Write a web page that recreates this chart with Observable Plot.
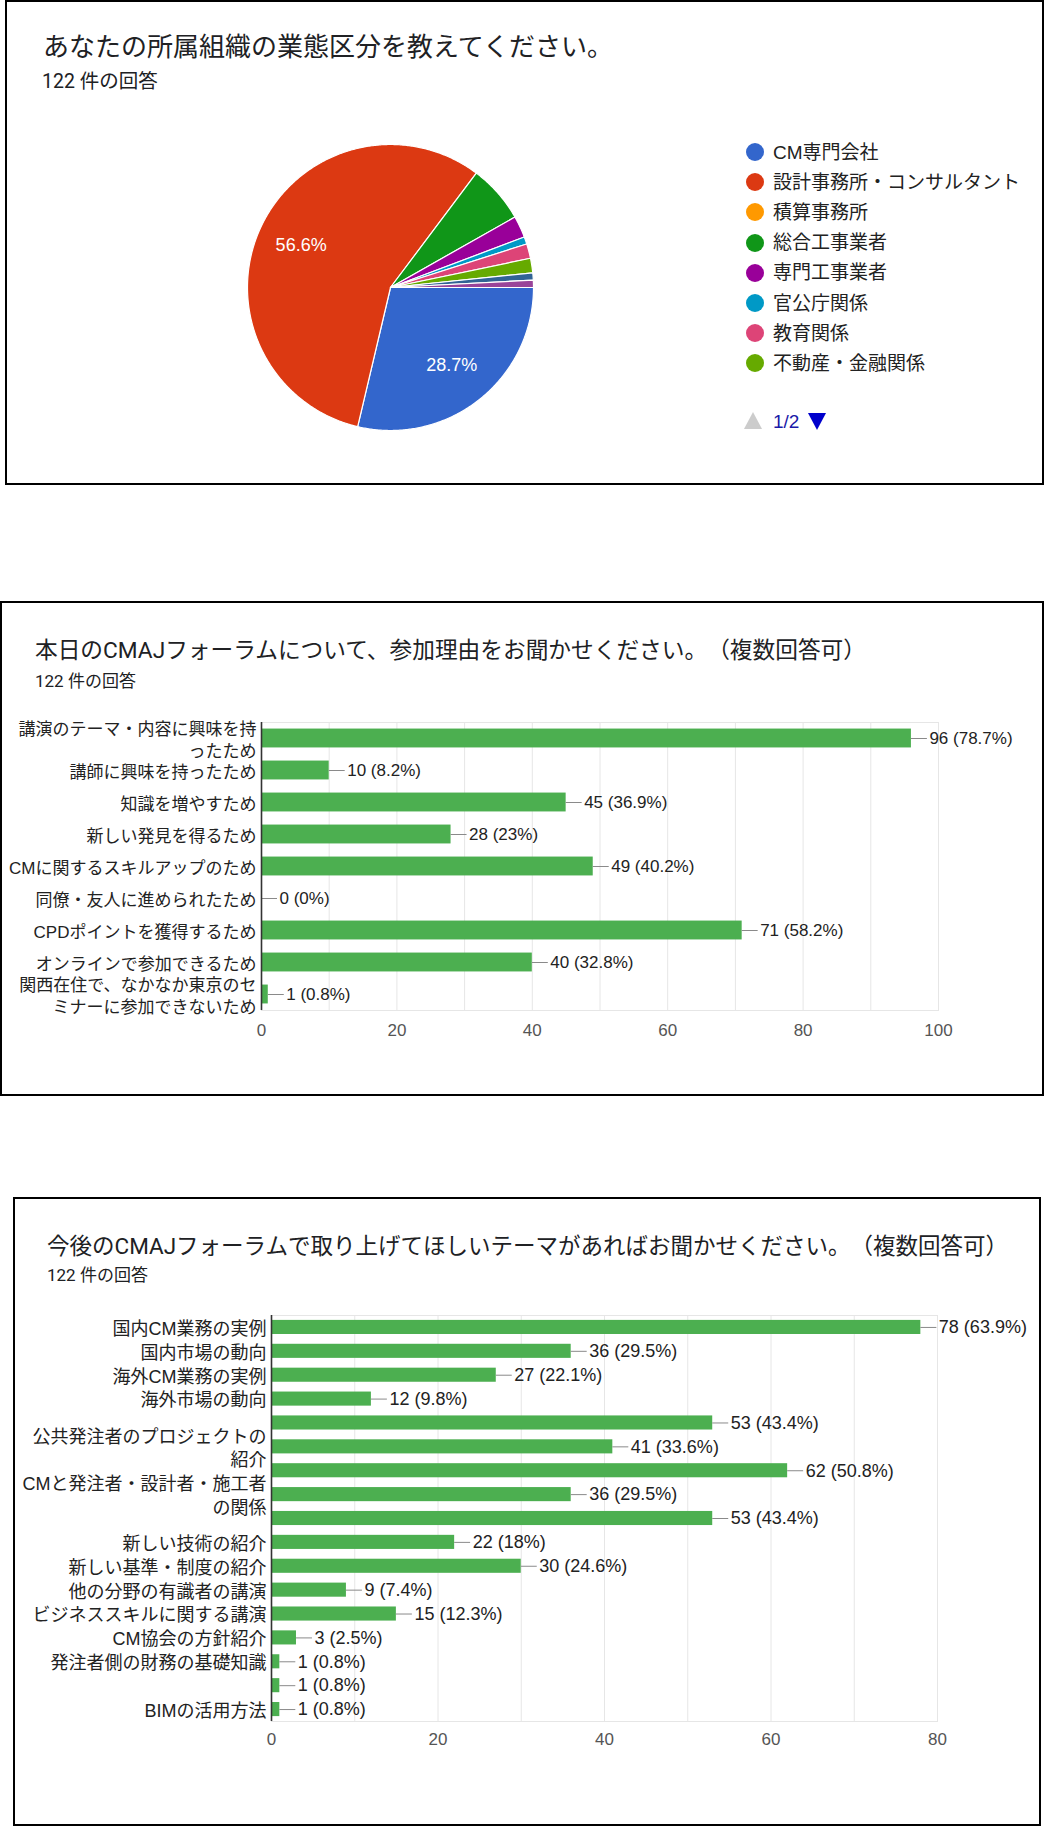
<!DOCTYPE html>
<html lang="ja">
<head>
<meta charset="utf-8">
<title>CMAJフォーラム アンケート結果</title>
<script src="https://cdn.jsdelivr.net/npm/d3@7"></script>
<script src="https://cdn.jsdelivr.net/npm/@observablehq/plot@0.6"></script>
<style>
  html, body { margin: 0; padding: 0; background: #fff; text-spacing-trim: space-all; }
  #page { position: relative; width: 1046px; height: 1826px; overflow: hidden; background: #fff; }
  .box { position: absolute; border: 2px solid #000; box-sizing: border-box; pointer-events: none; }
  .t { position: absolute; white-space: nowrap; }
  .dot { position: absolute; border-radius: 50%; }
  .tri { position: absolute; width: 0; height: 0; }
</style>
</head>
<body>
<div id="page"></div>
<script>
// ================= DATA =================
const responses = 122;

// Chart 1: 業態区分 (pie). Only the first legend page (8 items) is visible;
// the last two slices belong to legend page 2 and are unnamed in the picture.
const orgLabels = [
  "CM専門会社", "設計事務所・コンサルタント", "積算事務所", "総合工事業者",
  "専門工事業者", "官公庁関係", "教育関係", "不動産・金融関係",
  "（2ページ目の項目A）", "（2ページ目の項目B）"
];
const orgCounts = [35, 69, 0, 8, 3, 1, 2, 2, 1, 1];
const orgColors = [
  "#3366cc", "#dc3912", "#ff9900", "#109618", "#990099",
  "#0099c6", "#dd4477", "#66aa00", "#316395", "#994499"
];
const orgLegendPageSize = 8;
const orgLegendPager = "1/2";

// Chart 2: 参加理由
const reasonCategories = [
  "講演のテーマ・内容に興味を持ったため", "講師に興味を持ったため", "知識を増やすため",
  "新しい発見を得るため", "CMに関するスキルアップのため", "同僚・友人に進められたため",
  "CPDポイントを獲得するため", "オンラインで参加できるため",
  "関西在住で、なかなか東京のセミナーに参加できないため"
];
const reasonTickLabels = [
  "講演のテーマ・内容に興味を持\nったため", "講師に興味を持ったため", "知識を増やすため",
  "新しい発見を得るため", "CMに関するスキルアップのため", "同僚・友人に進められたため",
  "CPDポイントを獲得するため", "オンラインで参加できるため",
  "関西在住で、なかなか東京のセ\nミナーに参加できないため"
];
const reasonCounts = [96, 10, 45, 28, 49, 0, 71, 40, 1];
const reasonPercents = ["78.7%", "8.2%", "36.9%", "23%", "40.2%", "0%", "58.2%", "32.8%", "0.8%"];
const reasonTicks = [0, 20, 40, 60, 80, 100];

// Chart 3: 取り上げてほしいテーマ (some category labels are hidden in the picture)
const themeCategories = [
  "国内CM業務の実例", "国内市場の動向", "海外CM業務の実例", "海外市場の動向",
  "（非表示の項目5）", "公共発注者のプロジェクトの紹介", "（非表示の項目7）",
  "CMと発注者・設計者・施工者の関係", "（非表示の項目9）",
  "新しい技術の紹介", "新しい基準・制度の紹介", "他の分野の有識者の講演",
  "ビジネススキルに関する講演", "CM協会の方針紹介", "発注者側の財務の基礎知識",
  "（非表示の項目16）", "BIMの活用方法"
];
const themeTickLabels = [
  "国内CM業務の実例", "国内市場の動向", "海外CM業務の実例", "海外市場の動向",
  "", "公共発注者のプロジェクトの\n紹介", "",
  "CMと発注者・設計者・施工者\nの関係", "",
  "新しい技術の紹介", "新しい基準・制度の紹介", "他の分野の有識者の講演",
  "ビジネススキルに関する講演", "CM協会の方針紹介", "発注者側の財務の基礎知識",
  "", "BIMの活用方法"
];
const themeCounts = [78, 36, 27, 12, 53, 41, 62, 36, 53, 22, 30, 9, 15, 3, 1, 1, 1];
const themePercents = ["63.9%", "29.5%", "22.1%", "9.8%", "43.4%", "33.6%", "50.8%", "29.5%", "43.4%",
  "18%", "24.6%", "7.4%", "12.3%", "2.5%", "0.8%", "0.8%", "0.8%"];
const themeTicks = [0, 20, 40, 60, 80];

const titles = [
  "あなたの所属組織の業態区分を教えてください。",
  "本日のCMAJフォーラムについて、参加理由をお聞かせください。（複数回答可）",
  "今後のCMAJフォーラムで取り上げてほしいテーマがあればお聞かせください。（複数回答可）"
];
const subtitle = `${responses} 件の回答`;

// ================= LAYOUT HELPERS =================
const FONT = '"Liberation Sans", Arial, "Noto Sans CJK JP", sans-serif';
const TFONT = 'Roboto, "Noto Sans CJK JP", sans-serif';
const page = document.getElementById("page");

function addText(str, left, cy, size, color, family) {
  const d = document.createElement("div");
  d.className = "t";
  const h = Math.round(size * 1.4);
  d.style.left = left + "px";
  d.style.top = (cy - h / 2) + "px";
  d.style.height = h + "px";
  d.style.lineHeight = h + "px";
  d.style.fontSize = size + "px";
  d.style.color = color;
  d.style.fontFamily = family || TFONT;
  d.textContent = str;
  page.appendChild(d);
  return d;
}
function addBox(l, t, r, b) {
  const d = document.createElement("div");
  d.className = "box";
  d.style.left = l + "px"; d.style.top = t + "px";
  d.style.width = (r - l) + "px"; d.style.height = (b - t) + "px";
  return d;
}
function place(svg, top) {
  svg.style.position = "absolute";
  svg.style.left = "0px";
  svg.style.top = top + "px";
  page.appendChild(svg);
}
const baseStyle = {fontFamily: FONT, background: "transparent", overflow: "visible", color: "#222"};

// ================= CHART 1: PIE =================
{
  const total = d3.sum(orgCounts);
  const slices = orgLabels.map((label, i) => ({label, value: orgCounts[i], color: orgColors[i]}));
  // clockwise from 3 o'clock
  const arcs = d3.pie().value(d => d.value).sort(null)
    .startAngle(Math.PI / 2).endAngle(Math.PI / 2 + 2 * Math.PI)(slices);
  const pts = [];
  for (const a of arcs) {
    if (a.data.value <= 0) continue;
    const key = a.data.label, color = a.data.color;
    const n = Math.max(2, Math.ceil((a.endAngle - a.startAngle) / (Math.PI / 360)));
    pts.push({key, color, x: 0, y: 0});
    for (let k = 0; k <= n; k++) {
      const t = a.startAngle + (a.endAngle - a.startAngle) * k / n;
      pts.push({key, color, x: Math.sin(t), y: -Math.cos(t)});
    }
    pts.push({key, color, x: 0, y: 0});
  }
  const labels = arcs.filter(a => a.data.value / total >= 0.1).map(a => {
    const m = (a.startAngle + a.endAngle) / 2;
    return {x: 0.69 * Math.sin(m), y: -0.69 * Math.cos(m), text: (a.data.value / total * 100).toFixed(1) + "%"};
  });
  const pie = Plot.plot({
    width: 1046, height: 484,
    marginLeft: 247, marginRight: 513, marginTop: 144, marginBottom: 54,
    x: {domain: [-1, 1], axis: null},
    y: {domain: [-1, 1], reverse: true, axis: null},
    color: {type: "identity"},
    style: baseStyle,
    marks: [
      Plot.line(pts, {x: "x", y: "y", z: "key", fill: "color", stroke: "#fff", strokeWidth: 1.2, strokeLinejoin: "round"}),
      Plot.text(labels, {x: "x", y: "y", text: "text", fill: "#fff", fontSize: 18})
    ]
  });
  place(pie, 0);

  addText(titles[0], 43, 47, 26, "#202124");
  addText(subtitle, 42, 81, 19.5, "#202124");

  // legend (page 1)
  orgLabels.slice(0, orgLegendPageSize).forEach((lab, i) => {
    const cy = 152 + 30.2 * i;
    const dot = document.createElement("div");
    dot.className = "dot";
    dot.style.left = (755 - 9) + "px"; dot.style.top = (cy - 9) + "px";
    dot.style.width = "18px"; dot.style.height = "18px";
    dot.style.background = orgColors[i];
    page.appendChild(dot);
    addText(lab, 773, cy, 19, "#222", FONT);
  });
  const pcy = 421;
  const up = document.createElement("div");
  up.className = "tri";
  up.style.left = (753 - 9) + "px"; up.style.top = (pcy - 9) + "px";
  up.style.borderLeft = "9px solid transparent"; up.style.borderRight = "9px solid transparent";
  up.style.borderBottom = "17px solid #cccccc";
  page.appendChild(up);
  addText(orgLegendPager, 773, pcy, 19, "#1a1aa8", FONT);
  const dn = document.createElement("div");
  dn.className = "tri";
  dn.style.left = (817 - 9) + "px"; dn.style.top = (pcy - 8) + "px";
  dn.style.borderLeft = "9px solid transparent"; dn.style.borderRight = "9px solid transparent";
  dn.style.borderTop = "17px solid #0000cc";
  page.appendChild(dn);
}

// ================= BAR CHART HELPER =================
function barChart({categories, tickLabels, counts, percents, ticks, xMax, top, height,
                   marginLeft, marginRight, marginTop, marginBottom, fontSize, tickFontSize, tickPadding,
                   paddingInner, lineHeight}) {
  const data = categories.map((cat, i) => ({cat, count: counts[i], pct: percents[i]}));
  const tickMap = new Map(categories.map((c, i) => [c, tickLabels[i]]));
  const plotW = 1046 - marginLeft - marginRight;
  const leader = 16 * xMax / plotW; // leader line length (16px) in data units
  const chart = Plot.plot({
    width: 1046, height,
    marginLeft, marginRight, marginTop, marginBottom,
    x: {domain: [0, xMax]},
    y: {domain: categories, paddingInner, paddingOuter: paddingInner / 2, round: false},
    style: baseStyle,
    marks: [
      Plot.frame({stroke: "#e6e6e6"}),
      Plot.gridX({ticks: d3.range(10, xMax + 1, 10), stroke: "#e6e6e6", strokeOpacity: 1}),
      Plot.barX(data, {x: "count", y: "cat", fill: "#4caf50"}),
      Plot.ruleY(data, {y: "cat", x1: "count", x2: d => d.count + leader, stroke: "#8a8a8a", strokeWidth: 1}),
      Plot.text(data, {x: "count", y: "cat", text: d => `${d.count} (${d.pct})`, dx: 18,
        textAnchor: "start", fontSize, fill: "#222"}),
      Plot.ruleX([0], {stroke: "#333", strokeWidth: 1.6}),
      Plot.axisY({tickSize: 0, tickPadding: 5, fontSize, lineHeight, color: "#222",
        tickFormat: d => tickMap.get(d), label: null}),
      Plot.axisX({ticks, tickSize: 0, tickPadding, fontSize: tickFontSize, color: "#555", label: null})
    ]
  });
  place(chart, top);
}

// ================= CHART 2 =================
barChart({
  categories: reasonCategories, tickLabels: reasonTickLabels, counts: reasonCounts, percents: reasonPercents,
  ticks: reasonTicks, xMax: 100, top: 700, height: 360,
  marginLeft: 261, marginRight: 108, marginTop: 22, marginBottom: 50,
  fontSize: 17, tickFontSize: 17, tickPadding: 13, paddingInner: 0.41, lineHeight: 1.3
});
addText(titles[1], 35, 651, 22.7, "#202124");
addText(subtitle, 35, 681, 17, "#202124");

// ================= CHART 3 =================
barChart({
  categories: themeCategories, tickLabels: themeTickLabels, counts: themeCounts, percents: themePercents,
  ticks: themeTicks, xMax: 80, top: 1300, height: 480,
  marginLeft: 271, marginRight: 109, marginTop: 15, marginBottom: 59,
  fontSize: 18, tickFontSize: 17, tickPadding: 11, paddingInner: 0.41, lineHeight: 1.28
});
addText(titles[2], 47, 1246, 22.5, "#202124");
addText(subtitle, 47, 1275, 17, "#202124");

// ================= PANEL BORDERS =================
page.appendChild(addBox(5, 0, 1044, 485));
page.appendChild(addBox(0, 601, 1044, 1096));
page.appendChild(addBox(13, 1197, 1041, 1826));
</script>
</body>
</html>
